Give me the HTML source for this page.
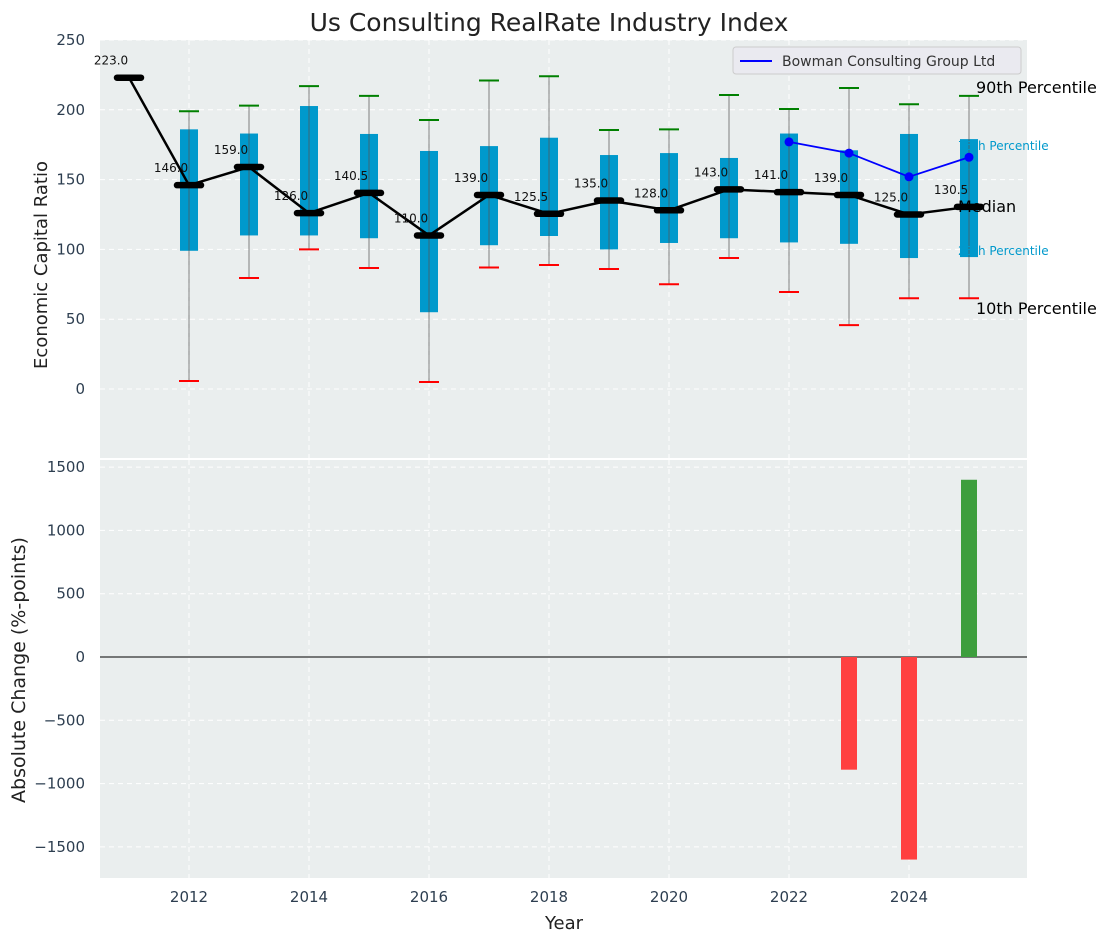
<!DOCTYPE html>
<html><head><meta charset="utf-8"><style>
body{margin:0;background:#fff;font-family:"DejaVu Sans","Liberation Sans",sans-serif}
svg text{font-family:"DejaVu Sans","Liberation Sans",sans-serif}
</style></head><body>
<svg id="chart" width="1111" height="942" xmlns="http://www.w3.org/2000/svg">
<text x="549" y="31" text-anchor="middle" font-size="25" fill="#222">Us Consulting RealRate Industry Index</text>
<rect x="100" y="40" width="927" height="418" fill="#eaeeee"/>
<rect x="100" y="460" width="927" height="418" fill="#eaeeee"/>
<g id="topg"></g><g id="botg"></g>
<text transform="translate(47,265) rotate(-90)" text-anchor="middle" font-size="18" fill="#222">Economic Capital Ratio</text>
<text transform="translate(25,670) rotate(-90)" text-anchor="middle" font-size="19" fill="#222">Absolute Change (%-points)</text>
<text x="564" y="929" text-anchor="middle" font-size="18" fill="#222">Year</text>
<g>
<rect x="733" y="47" width="288" height="27" rx="3" fill="#eaeaf0" stroke="#ccc"/>
<line x1="740" y1="61" x2="772" y2="61" stroke="#0000ff" stroke-width="2"/>
<text x="782" y="66" font-size="14" fill="#333">Bowman Consulting Group Ltd</text>
</g>
</svg>
<script>
const years=[2011,2012,2013,2014,2015,2016,2017,2018,2019,2020,2021,2022,2023,2024,2025];
const medians=[223,146,159,126,140.5,110,139,125.5,135,128,143,141,139,125,130.5];
const q1=[null,99,110,110,108,55,103,109.6,100,104.6,108,105,104,93.8,94.5];
const q3=[null,186,183,202.7,182.7,170.5,174,180,167.6,169,165.5,183,171,182.7,179];
const p10=[null,5.7,79.5,100,86.7,5,87,88.8,86,75,93.8,69.5,45.8,65,65];
const p90=[null,199,203,217,210,192.7,221,224,185.5,186,210.6,200.6,215.6,204,210];
const bowYears=[2022,2023,2024,2025];
const bowVals=[177,169,152,166];
const chgYears=[2023,2024,2025];
const chgVals=[-890,-1600,1400];
const topTicks=[0,50,100,150,200,250];
const botTicks=[-1500,-1000,-500,0,500,1000,1500];
const xTicks=[2012,2014,2016,2018,2020,2022,2024];

const NS="http://www.w3.org/2000/svg";
const X=v=>129+(v-2011)*60;
const YT=v=>389-v*1.396;
const YB=v=>657-v*0.1266;
function mk(p,t,a){const e=document.createElementNS(NS,t);for(const k in a)e.setAttribute(k,a[k]);p.appendChild(e);return e;}
const gTop=document.getElementById('topg'),gBot=document.getElementById('botg');

topTicks.forEach(v=>{
  const g=mk(gTop,'line',{x1:100,x2:1027,y1:YT(v),y2:YT(v),stroke:'#fff','stroke-dasharray':'5,4','stroke-width':1});
  
  
  const t=mk(gTop,'text',{x:85,y:YT(v)+5,'text-anchor':'end','font-size':15,fill:'#2d3e50'});t.textContent=v;
  
  
});
botTicks.forEach(v=>{
  const g=mk(gBot,'line',{x1:100,x2:1027,y1:YB(v),y2:YB(v),stroke:'#fff','stroke-dasharray':'5,4','stroke-width':1});
  
  
  const t=mk(gBot,'text',{x:85,y:YB(v)+5,'text-anchor':'end','font-size':15,fill:'#2d3e50'});t.textContent=String(v).replace('-','\u2212');
  
  
});
xTicks.forEach(v=>{
  [[40,458,gTop],[460,878,gBot]].forEach(([a,b,p])=>{
    const g=mk(p,'line',{x1:X(v),x2:X(v),y1:a,y2:b,stroke:'#fff','stroke-dasharray':'5,4','stroke-width':1});
    
    
  });
  const t=mk(gBot,'text',{x:X(v),y:902,'text-anchor':'middle','font-size':15,fill:'#2d3e50'});t.textContent=v;
  
  
});

years.forEach((y,i)=>{
  if(q1[i]==null)return;
  const b=mk(gTop,'rect',{x:X(y)-9,y:YT(q3[i]),width:18,height:YT(q1[i])-YT(q3[i]),fill:'#0099cc'});
  
  
  const w=mk(gTop,'line',{x1:X(y),x2:X(y),y1:YT(p90[i]),y2:YT(p10[i]),stroke:'#555','stroke-opacity':0.6,'stroke-width':1.2});
  
  
  const c1=mk(gTop,'line',{x1:X(y)-10,x2:X(y)+10,y1:YT(p90[i]),y2:YT(p90[i]),stroke:'green','stroke-width':2});
  
  
  const c2=mk(gTop,'line',{x1:X(y)-10,x2:X(y)+10,y1:YT(p10[i]),y2:YT(p10[i]),stroke:'red','stroke-width':2});
  
  
});
const ml=mk(gTop,'polyline',{points:years.map((y,i)=>X(y)+','+YT(medians[i])).join(' '),fill:'none',stroke:'#000','stroke-width':2.5});


years.forEach((y,i)=>{
  const m=mk(gTop,'line',{x1:X(y)-12,x2:X(y)+12,y1:YT(medians[i]),y2:YT(medians[i]),stroke:'#000','stroke-width':6.5,'stroke-linecap':'round'});
  
  
  const t=mk(gTop,'text',{x:X(y)-18,y:YT(medians[i])-13,'text-anchor':'middle','font-size':12,fill:'#111'});
  t.textContent=medians[i].toFixed(1);
  
  
});
const bl=mk(gTop,'polyline',{points:bowYears.map((y,i)=>X(y)+','+YT(bowVals[i])).join(' '),fill:'none',stroke:'#0000ff','stroke-width':1.8});


bowYears.forEach((y,i)=>{
  const c=mk(gTop,'circle',{cx:X(y),cy:YT(bowVals[i]),r:4.5,fill:'#0000ff'});
  
  
});
[[976,93,'90th Percentile',16,'#000'],[958,150,'75th Percentile',12,'#0099cc'],[958,212,'Median',16,'#000'],[958,255,'25th Percentile',12,'#0099cc'],[976,314,'10th Percentile',16,'#000']].forEach(a=>{
  const t=mk(gTop,'text',{x:a[0],y:a[1],'font-size':a[3],fill:a[4]});t.textContent=a[2];
  
  
});
const zl=mk(gBot,'line',{x1:100,x2:1027,y1:YB(0),y2:YB(0),stroke:'#000','stroke-width':1});


chgYears.forEach((y,i)=>{
  const v=chgVals[i];
  const r=mk(gBot,'rect',{x:X(y)-8,y:Math.min(YB(v),YB(0)),width:16,height:Math.abs(YB(v)-YB(0)),fill:v<0?'#ff4040':'#3d9e3d'});
  
  
});
</script>
</body></html>
